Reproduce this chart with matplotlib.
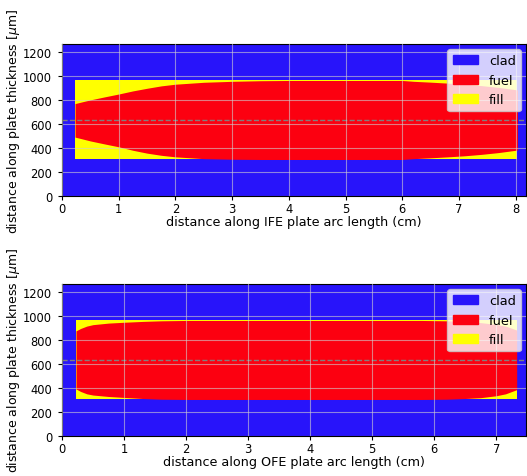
import matplotlib
matplotlib.use("Agg")
import matplotlib.pyplot as plt
import matplotlib.patches as mpatches
import numpy as np

#plate data (um along thickness, cm along arc)
plate_thick = 1270
clad_bot = 305
clad_top = 965

ife_x = [0.23, 0.35, 0.5, 0.75, 1.0, 1.25, 1.5, 1.75, 2.0, 2.5, 3.0, 3.5, 4.0, 5.0, 6.0, 6.2, 6.5, 6.8, 7.1, 7.4, 7.7, 8.03]
ife_top = [772, 786, 803, 828, 852, 878, 900, 920, 934, 950, 958, 963, 965, 965, 965, 958, 951, 943, 934, 922, 907, 886]
ife_bot = [492, 478, 460, 435, 411, 382, 358, 340, 327, 312, 307, 305, 305, 305, 305, 312, 319, 327, 336, 348, 363, 384]

ofe_x = [0.226, 0.3, 0.4, 0.5, 0.75, 1.0, 1.3, 1.6, 2.0, 3.0, 5.0, 5.8, 6.2, 6.5, 6.75, 7.0, 7.15, 7.33]
ofe_top = [878, 898, 918, 930, 943, 950, 957, 962, 965, 965, 965, 965, 962, 955, 947, 932, 918, 885]
ofe_bot = [393, 372, 352, 342, 330, 322, 313, 307, 305, 305, 305, 305, 307, 313, 320, 336, 352, 387]

plates = [("IFE", ife_x, ife_top, ife_bot), ("OFE", ofe_x, ofe_top, ofe_bot)]

c_clad = "#2814fa"
c_fuel = "#fc0010"
c_fill = "#ffff00"

fig = plt.figure(figsize=(5.27, 4.77), dpi=100)
positions = [[0.1176, 0.587, 0.8805, 0.3187], [0.1176, 0.0839, 0.8805, 0.3187]]

for pos, (name, x, top, bot) in zip(positions, plates):
    ax = fig.add_axes(pos)
    x = np.array(x)
    xmax = x[-1] + 0.15
    ax.set_facecolor(c_clad)
    #fill region (rectangle), fuel meat on top of it
    ax.fill_between([x[0], x[-1]], clad_bot, clad_top, color=c_fill, lw=0)
    ax.fill_between(x, bot, top, color=c_fuel, lw=0)
    ax.axhline(plate_thick / 2, color="gray", ls="--", lw=1)
    ax.set_xlim(0, xmax)
    ax.set_ylim(0, plate_thick)
    ax.set_yticks(range(0, 1201, 200))
    ax.set_xticks(range(0, int(xmax) + 1))
    ax.grid(True, color="#d0d0d0", alpha=0.6, lw=0.8)
    ax.set_axisbelow(False)
    ax.tick_params(labelsize=8.3, length=3)
    ax.tick_params(axis="x", pad=1.5)
    ax.tick_params(axis="y", pad=4)
    ax.set_xlabel(f"distance along {name} plate arc length (cm)", fontsize=9.2, labelpad=0)
    ax.set_ylabel(r"distance along plate thickness [$\mu$m]", fontsize=9, labelpad=1)
    handles = [mpatches.Patch(color=c_clad, label="clad"),
               mpatches.Patch(color=c_fuel, label="fuel"),
               mpatches.Patch(color=c_fill, label="fill")]
    ax.legend(handles=handles, loc="upper right", fontsize=9.3, borderaxespad=0.4)

plt.savefig("out.png", dpi=100)
